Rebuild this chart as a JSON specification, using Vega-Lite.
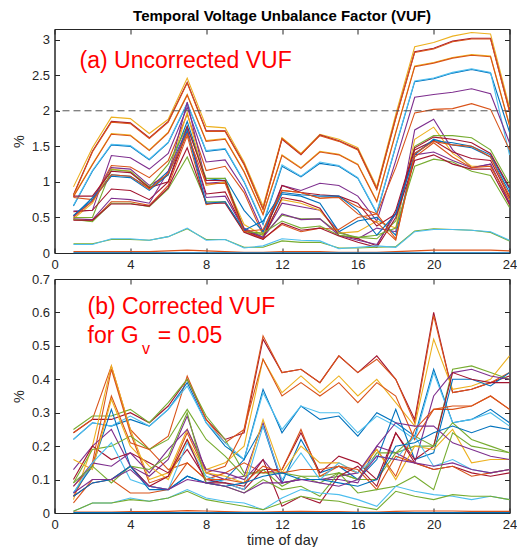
{
"$schema":"https://vega.github.io/schema/vega-lite/v6.json",
"padding":{"left":10.5,"top":8,"right":0,"bottom":0},
"bounds":"flush",
"spacing":26,
"config":{
 "font":"Liberation Sans",
 "view":{"stroke":"#262626","strokeWidth":1},
 "axis":{"grid":false,"labelFlush":false,"domainColor":"#262626","tickColor":"#262626","labelColor":"#262626","titleColor":"#262626","labelFont":"Liberation Sans","titleFont":"Liberation Sans","labelFontSize":13,"titleFontSize":14.5,"titleFontWeight":"normal","tickSize":-5,"labelPadding":10},
 "title":{"font":"Liberation Sans","fontSize":15,"fontWeight":"bold","color":"#000000","offset":4.5}
},
"datasets":{
"a":[
{"s":"a1","h":1,"v":0.93},{"s":"a1","h":2,"v":1.48},{"s":"a1","h":3,"v":1.91},{"s":"a1","h":4,"v":1.89},{"s":"a1","h":5,"v":1.68},{"s":"a1","h":6,"v":1.88},{"s":"a1","h":7,"v":2.46},{"s":"a1","h":8,"v":1.78},{"s":"a1","h":9,"v":1.76},{"s":"a1","h":10,"v":1.28},{"s":"a1","h":11,"v":0.66},{"s":"a1","h":12,"v":1.62},{"s":"a1","h":13,"v":1.40},{"s":"a1","h":14,"v":1.67},{"s":"a1","h":15,"v":1.60},{"s":"a1","h":16,"v":1.48},{"s":"a1","h":17,"v":0.93},{"s":"a1","h":18,"v":1.95},{"s":"a1","h":19,"v":2.90},{"s":"a1","h":20,"v":2.96},{"s":"a1","h":21,"v":3.05},{"s":"a1","h":22,"v":3.10},{"s":"a1","h":23,"v":3.08},{"s":"a1","h":24,"v":2.05},
{"s":"a2","h":1,"v":0.82},{"s":"a2","h":2,"v":1.43},{"s":"a2","h":3,"v":1.85},{"s":"a2","h":4,"v":1.83},{"s":"a2","h":5,"v":1.62},{"s":"a2","h":6,"v":1.85},{"s":"a2","h":7,"v":2.40},{"s":"a2","h":8,"v":1.72},{"s":"a2","h":9,"v":1.72},{"s":"a2","h":10,"v":1.25},{"s":"a2","h":11,"v":0.62},{"s":"a2","h":12,"v":1.60},{"s":"a2","h":13,"v":1.38},{"s":"a2","h":14,"v":1.66},{"s":"a2","h":15,"v":1.58},{"s":"a2","h":16,"v":1.46},{"s":"a2","h":17,"v":0.90},{"s":"a2","h":18,"v":1.90},{"s":"a2","h":19,"v":2.83},{"s":"a2","h":20,"v":2.88},{"s":"a2","h":21,"v":2.98},{"s":"a2","h":22,"v":3.02},{"s":"a2","h":23,"v":3.02},{"s":"a2","h":24,"v":2.00},
{"s":"a3","h":1,"v":0.81},{"s":"a3","h":2,"v":1.42},{"s":"a3","h":3,"v":1.84},{"s":"a3","h":4,"v":1.82},{"s":"a3","h":5,"v":1.61},{"s":"a3","h":6,"v":1.84},{"s":"a3","h":7,"v":2.39},{"s":"a3","h":8,"v":1.71},{"s":"a3","h":9,"v":1.71},{"s":"a3","h":10,"v":1.24},{"s":"a3","h":11,"v":0.61},{"s":"a3","h":12,"v":1.61},{"s":"a3","h":13,"v":1.39},{"s":"a3","h":14,"v":1.65},{"s":"a3","h":15,"v":1.57},{"s":"a3","h":16,"v":1.45},{"s":"a3","h":17,"v":0.89},{"s":"a3","h":18,"v":1.89},{"s":"a3","h":19,"v":2.82},{"s":"a3","h":20,"v":2.87},{"s":"a3","h":21,"v":2.97},{"s":"a3","h":22,"v":3.01},{"s":"a3","h":23,"v":3.01},{"s":"a3","h":24,"v":1.99},
{"s":"a4","h":1,"v":0.80},{"s":"a4","h":2,"v":1.25},{"s":"a4","h":3,"v":1.68},{"s":"a4","h":4,"v":1.66},{"s":"a4","h":5,"v":1.45},{"s":"a4","h":6,"v":1.70},{"s":"a4","h":7,"v":2.23},{"s":"a4","h":8,"v":1.58},{"s":"a4","h":9,"v":1.61},{"s":"a4","h":10,"v":1.15},{"s":"a4","h":11,"v":0.55},{"s":"a4","h":12,"v":1.38},{"s":"a4","h":13,"v":1.20},{"s":"a4","h":14,"v":1.43},{"s":"a4","h":15,"v":1.39},{"s":"a4","h":16,"v":1.25},{"s":"a4","h":17,"v":0.73},{"s":"a4","h":18,"v":1.70},{"s":"a4","h":19,"v":2.63},{"s":"a4","h":20,"v":2.68},{"s":"a4","h":21,"v":2.75},{"s":"a4","h":22,"v":2.79},{"s":"a4","h":23,"v":2.77},{"s":"a4","h":24,"v":1.80},
{"s":"a5","h":1,"v":0.79},{"s":"a5","h":2,"v":1.24},{"s":"a5","h":3,"v":1.67},{"s":"a5","h":4,"v":1.65},{"s":"a5","h":5,"v":1.44},{"s":"a5","h":6,"v":1.69},{"s":"a5","h":7,"v":2.22},{"s":"a5","h":8,"v":1.57},{"s":"a5","h":9,"v":1.60},{"s":"a5","h":10,"v":1.14},{"s":"a5","h":11,"v":0.54},{"s":"a5","h":12,"v":1.37},{"s":"a5","h":13,"v":1.19},{"s":"a5","h":14,"v":1.42},{"s":"a5","h":15,"v":1.38},{"s":"a5","h":16,"v":1.24},{"s":"a5","h":17,"v":0.72},{"s":"a5","h":18,"v":1.69},{"s":"a5","h":19,"v":2.62},{"s":"a5","h":20,"v":2.67},{"s":"a5","h":21,"v":2.74},{"s":"a5","h":22,"v":2.78},{"s":"a5","h":23,"v":2.76},{"s":"a5","h":24,"v":1.79},
{"s":"a6","h":1,"v":0.66},{"s":"a6","h":2,"v":1.15},{"s":"a6","h":3,"v":1.52},{"s":"a6","h":4,"v":1.50},{"s":"a6","h":5,"v":1.31},{"s":"a6","h":6,"v":1.55},{"s":"a6","h":7,"v":2.10},{"s":"a6","h":8,"v":1.43},{"s":"a6","h":9,"v":1.46},{"s":"a6","h":10,"v":1.00},{"s":"a6","h":11,"v":0.40},{"s":"a6","h":12,"v":1.22},{"s":"a6","h":13,"v":1.07},{"s":"a6","h":14,"v":1.26},{"s":"a6","h":15,"v":1.22},{"s":"a6","h":16,"v":1.05},{"s":"a6","h":17,"v":0.56},{"s":"a6","h":18,"v":1.50},{"s":"a6","h":19,"v":2.41},{"s":"a6","h":20,"v":2.45},{"s":"a6","h":21,"v":2.53},{"s":"a6","h":22,"v":2.58},{"s":"a6","h":23,"v":2.53},{"s":"a6","h":24,"v":1.70},
{"s":"a7","h":1,"v":0.67},{"s":"a7","h":2,"v":1.16},{"s":"a7","h":3,"v":1.53},{"s":"a7","h":4,"v":1.51},{"s":"a7","h":5,"v":1.32},{"s":"a7","h":6,"v":1.56},{"s":"a7","h":7,"v":2.11},{"s":"a7","h":8,"v":1.44},{"s":"a7","h":9,"v":1.47},{"s":"a7","h":10,"v":1.01},{"s":"a7","h":11,"v":0.42},{"s":"a7","h":12,"v":1.24},{"s":"a7","h":13,"v":1.08},{"s":"a7","h":14,"v":1.28},{"s":"a7","h":15,"v":1.23},{"s":"a7","h":16,"v":1.06},{"s":"a7","h":17,"v":0.57},{"s":"a7","h":18,"v":1.51},{"s":"a7","h":19,"v":2.42},{"s":"a7","h":20,"v":2.46},{"s":"a7","h":21,"v":2.54},{"s":"a7","h":22,"v":2.59},{"s":"a7","h":23,"v":2.54},{"s":"a7","h":24,"v":1.38},
{"s":"a8","h":1,"v":0.59},{"s":"a8","h":2,"v":0.60},{"s":"a8","h":3,"v":1.37},{"s":"a8","h":4,"v":1.34},{"s":"a8","h":5,"v":1.18},{"s":"a8","h":6,"v":1.40},{"s":"a8","h":7,"v":2.05},{"s":"a8","h":8,"v":1.28},{"s":"a8","h":9,"v":1.31},{"s":"a8","h":10,"v":0.90},{"s":"a8","h":11,"v":0.30},{"s":"a8","h":12,"v":0.95},{"s":"a8","h":13,"v":0.88},{"s":"a8","h":14,"v":0.98},{"s":"a8","h":15,"v":0.95},{"s":"a8","h":16,"v":0.80},{"s":"a8","h":17,"v":0.45},{"s":"a8","h":18,"v":1.30},{"s":"a8","h":19,"v":2.19},{"s":"a8","h":20,"v":2.23},{"s":"a8","h":21,"v":2.26},{"s":"a8","h":22,"v":2.31},{"s":"a8","h":23,"v":2.24},{"s":"a8","h":24,"v":1.55},
{"s":"a9","h":1,"v":0.78},{"s":"a9","h":2,"v":0.75},{"s":"a9","h":3,"v":1.23},{"s":"a9","h":4,"v":1.21},{"s":"a9","h":5,"v":1.06},{"s":"a9","h":6,"v":1.30},{"s":"a9","h":7,"v":1.95},{"s":"a9","h":8,"v":1.16},{"s":"a9","h":9,"v":1.22},{"s":"a9","h":10,"v":0.85},{"s":"a9","h":11,"v":0.25},{"s":"a9","h":12,"v":0.88},{"s":"a9","h":13,"v":0.85},{"s":"a9","h":14,"v":0.77},{"s":"a9","h":15,"v":0.79},{"s":"a9","h":16,"v":0.65},{"s":"a9","h":17,"v":0.55},{"s":"a9","h":18,"v":1.20},{"s":"a9","h":19,"v":1.97},{"s":"a9","h":20,"v":2.02},{"s":"a9","h":21,"v":2.03},{"s":"a9","h":22,"v":2.10},{"s":"a9","h":23,"v":2.02},{"s":"a9","h":24,"v":1.45},
{"s":"a10","h":1,"v":0.52},{"s":"a10","h":2,"v":0.78},{"s":"a10","h":3,"v":1.10},{"s":"a10","h":4,"v":1.08},{"s":"a10","h":5,"v":0.91},{"s":"a10","h":6,"v":1.15},{"s":"a10","h":7,"v":1.85},{"s":"a10","h":8,"v":1.02},{"s":"a10","h":9,"v":1.05},{"s":"a10","h":10,"v":0.60},{"s":"a10","h":11,"v":0.30},{"s":"a10","h":12,"v":0.83},{"s":"a10","h":13,"v":0.80},{"s":"a10","h":14,"v":0.70},{"s":"a10","h":15,"v":0.30},{"s":"a10","h":16,"v":0.45},{"s":"a10","h":17,"v":0.50},{"s":"a10","h":18,"v":0.25},{"s":"a10","h":19,"v":1.40},{"s":"a10","h":20,"v":1.58},{"s":"a10","h":21,"v":1.55},{"s":"a10","h":22,"v":1.50},{"s":"a10","h":23,"v":1.38},{"s":"a10","h":24,"v":0.90},
{"s":"a11","h":1,"v":0.52},{"s":"a11","h":2,"v":0.73},{"s":"a11","h":3,"v":1.20},{"s":"a11","h":4,"v":1.18},{"s":"a11","h":5,"v":0.95},{"s":"a11","h":6,"v":1.10},{"s":"a11","h":7,"v":2.12},{"s":"a11","h":8,"v":0.98},{"s":"a11","h":9,"v":1.00},{"s":"a11","h":10,"v":0.35},{"s":"a11","h":11,"v":0.22},{"s":"a11","h":12,"v":0.70},{"s":"a11","h":13,"v":0.65},{"s":"a11","h":14,"v":0.60},{"s":"a11","h":15,"v":0.30},{"s":"a11","h":16,"v":0.20},{"s":"a11","h":17,"v":0.35},{"s":"a11","h":18,"v":0.30},{"s":"a11","h":19,"v":1.73},{"s":"a11","h":20,"v":1.88},{"s":"a11","h":21,"v":1.45},{"s":"a11","h":22,"v":1.20},{"s":"a11","h":23,"v":1.25},{"s":"a11","h":24,"v":0.70},
{"s":"a12","h":1,"v":0.48},{"s":"a12","h":2,"v":0.70},{"s":"a12","h":3,"v":1.18},{"s":"a12","h":4,"v":1.15},{"s":"a12","h":5,"v":0.90},{"s":"a12","h":6,"v":1.10},{"s":"a12","h":7,"v":1.98},{"s":"a12","h":8,"v":0.95},{"s":"a12","h":9,"v":1.00},{"s":"a12","h":10,"v":0.40},{"s":"a12","h":11,"v":0.25},{"s":"a12","h":12,"v":0.75},{"s":"a12","h":13,"v":0.70},{"s":"a12","h":14,"v":0.60},{"s":"a12","h":15,"v":0.28},{"s":"a12","h":16,"v":0.30},{"s":"a12","h":17,"v":0.45},{"s":"a12","h":18,"v":0.35},{"s":"a12","h":19,"v":1.60},{"s":"a12","h":20,"v":1.77},{"s":"a12","h":21,"v":1.40},{"s":"a12","h":22,"v":1.22},{"s":"a12","h":23,"v":1.22},{"s":"a12","h":24,"v":0.75},
{"s":"a13","h":1,"v":0.50},{"s":"a13","h":2,"v":0.50},{"s":"a13","h":3,"v":1.17},{"s":"a13","h":4,"v":1.15},{"s":"a13","h":5,"v":0.93},{"s":"a13","h":6,"v":1.25},{"s":"a13","h":7,"v":1.78},{"s":"a13","h":8,"v":1.05},{"s":"a13","h":9,"v":1.05},{"s":"a13","h":10,"v":0.32},{"s":"a13","h":11,"v":0.25},{"s":"a13","h":12,"v":0.53},{"s":"a13","h":13,"v":0.48},{"s":"a13","h":14,"v":0.48},{"s":"a13","h":15,"v":0.28},{"s":"a13","h":16,"v":0.22},{"s":"a13","h":17,"v":0.20},{"s":"a13","h":18,"v":0.45},{"s":"a13","h":19,"v":1.50},{"s":"a13","h":20,"v":1.65},{"s":"a13","h":21,"v":1.65},{"s":"a13","h":22,"v":1.62},{"s":"a13","h":23,"v":1.45},{"s":"a13","h":24,"v":0.97},
{"s":"a14","h":1,"v":0.80},{"s":"a14","h":2,"v":0.80},{"s":"a14","h":3,"v":1.15},{"s":"a14","h":4,"v":1.13},{"s":"a14","h":5,"v":0.92},{"s":"a14","h":6,"v":1.00},{"s":"a14","h":7,"v":1.78},{"s":"a14","h":8,"v":1.02},{"s":"a14","h":9,"v":1.02},{"s":"a14","h":10,"v":0.32},{"s":"a14","h":11,"v":0.20},{"s":"a14","h":12,"v":0.78},{"s":"a14","h":13,"v":0.73},{"s":"a14","h":14,"v":0.63},{"s":"a14","h":15,"v":0.25},{"s":"a14","h":16,"v":0.20},{"s":"a14","h":17,"v":0.10},{"s":"a14","h":18,"v":0.60},{"s":"a14","h":19,"v":1.48},{"s":"a14","h":20,"v":1.63},{"s":"a14","h":21,"v":1.60},{"s":"a14","h":22,"v":1.55},{"s":"a14","h":23,"v":1.40},{"s":"a14","h":24,"v":0.92},
{"s":"a15","h":1,"v":0.58},{"s":"a15","h":2,"v":0.60},{"s":"a15","h":3,"v":0.90},{"s":"a15","h":4,"v":0.88},{"s":"a15","h":5,"v":0.75},{"s":"a15","h":6,"v":1.00},{"s":"a15","h":7,"v":1.70},{"s":"a15","h":8,"v":0.83},{"s":"a15","h":9,"v":0.86},{"s":"a15","h":10,"v":0.33},{"s":"a15","h":11,"v":0.20},{"s":"a15","h":12,"v":0.95},{"s":"a15","h":13,"v":0.85},{"s":"a15","h":14,"v":0.82},{"s":"a15","h":15,"v":0.80},{"s":"a15","h":16,"v":0.70},{"s":"a15","h":17,"v":0.38},{"s":"a15","h":18,"v":0.55},{"s":"a15","h":19,"v":1.45},{"s":"a15","h":20,"v":1.58},{"s":"a15","h":21,"v":1.42},{"s":"a15","h":22,"v":1.33},{"s":"a15","h":23,"v":1.30},{"s":"a15","h":24,"v":0.78},
{"s":"a16","h":1,"v":0.48},{"s":"a16","h":2,"v":0.47},{"s":"a16","h":3,"v":0.77},{"s":"a16","h":4,"v":0.75},{"s":"a16","h":5,"v":0.70},{"s":"a16","h":6,"v":1.15},{"s":"a16","h":7,"v":1.75},{"s":"a16","h":8,"v":0.78},{"s":"a16","h":9,"v":0.80},{"s":"a16","h":10,"v":0.33},{"s":"a16","h":11,"v":0.22},{"s":"a16","h":12,"v":0.55},{"s":"a16","h":13,"v":0.47},{"s":"a16","h":14,"v":0.48},{"s":"a16","h":15,"v":0.25},{"s":"a16","h":16,"v":0.18},{"s":"a16","h":17,"v":0.12},{"s":"a16","h":18,"v":0.55},{"s":"a16","h":19,"v":1.38},{"s":"a16","h":20,"v":1.42},{"s":"a16","h":21,"v":1.30},{"s":"a16","h":22,"v":1.20},{"s":"a16","h":23,"v":1.25},{"s":"a16","h":24,"v":0.70},
{"s":"a17","h":1,"v":0.47},{"s":"a17","h":2,"v":0.45},{"s":"a17","h":3,"v":0.72},{"s":"a17","h":4,"v":0.72},{"s":"a17","h":5,"v":0.67},{"s":"a17","h":6,"v":0.95},{"s":"a17","h":7,"v":1.65},{"s":"a17","h":8,"v":0.68},{"s":"a17","h":9,"v":0.72},{"s":"a17","h":10,"v":0.30},{"s":"a17","h":11,"v":0.20},{"s":"a17","h":12,"v":0.40},{"s":"a17","h":13,"v":0.30},{"s":"a17","h":14,"v":0.35},{"s":"a17","h":15,"v":0.33},{"s":"a17","h":16,"v":0.50},{"s":"a17","h":17,"v":0.55},{"s":"a17","h":18,"v":0.20},{"s":"a17","h":19,"v":1.35},{"s":"a17","h":20,"v":1.55},{"s":"a17","h":21,"v":1.35},{"s":"a17","h":22,"v":1.20},{"s":"a17","h":23,"v":1.22},{"s":"a17","h":24,"v":0.75},
{"s":"a18","h":1,"v":0.47},{"s":"a18","h":2,"v":0.44},{"s":"a18","h":3,"v":0.70},{"s":"a18","h":4,"v":0.70},{"s":"a18","h":5,"v":0.65},{"s":"a18","h":6,"v":0.90},{"s":"a18","h":7,"v":1.35},{"s":"a18","h":8,"v":0.72},{"s":"a18","h":9,"v":0.72},{"s":"a18","h":10,"v":0.30},{"s":"a18","h":11,"v":0.28},{"s":"a18","h":12,"v":0.45},{"s":"a18","h":13,"v":0.35},{"s":"a18","h":14,"v":0.38},{"s":"a18","h":15,"v":0.25},{"s":"a18","h":16,"v":0.22},{"s":"a18","h":17,"v":0.25},{"s":"a18","h":18,"v":0.35},{"s":"a18","h":19,"v":1.22},{"s":"a18","h":20,"v":1.32},{"s":"a18","h":21,"v":1.28},{"s":"a18","h":22,"v":1.15},{"s":"a18","h":23,"v":1.09},{"s":"a18","h":24,"v":0.64},
{"s":"a19","h":1,"v":0.46},{"s":"a19","h":2,"v":0.46},{"s":"a19","h":3,"v":0.69},{"s":"a19","h":4,"v":0.69},{"s":"a19","h":5,"v":0.66},{"s":"a19","h":6,"v":0.92},{"s":"a19","h":7,"v":1.48},{"s":"a19","h":8,"v":0.70},{"s":"a19","h":9,"v":0.70},{"s":"a19","h":10,"v":0.29},{"s":"a19","h":11,"v":0.19},{"s":"a19","h":12,"v":0.42},{"s":"a19","h":13,"v":0.32},{"s":"a19","h":14,"v":0.35},{"s":"a19","h":15,"v":0.24},{"s":"a19","h":16,"v":0.15},{"s":"a19","h":17,"v":0.08},{"s":"a19","h":18,"v":0.50},{"s":"a19","h":19,"v":1.30},{"s":"a19","h":20,"v":1.38},{"s":"a19","h":21,"v":1.25},{"s":"a19","h":22,"v":1.18},{"s":"a19","h":23,"v":1.18},{"s":"a19","h":24,"v":0.68},
{"s":"a20","h":1,"v":0.53},{"s":"a20","h":2,"v":0.75},{"s":"a20","h":3,"v":1.08},{"s":"a20","h":4,"v":1.06},{"s":"a20","h":5,"v":0.88},{"s":"a20","h":6,"v":1.10},{"s":"a20","h":7,"v":1.72},{"s":"a20","h":8,"v":0.70},{"s":"a20","h":9,"v":0.72},{"s":"a20","h":10,"v":0.32},{"s":"a20","h":11,"v":0.45},{"s":"a20","h":12,"v":0.85},{"s":"a20","h":13,"v":0.82},{"s":"a20","h":14,"v":0.80},{"s":"a20","h":15,"v":0.80},{"s":"a20","h":16,"v":0.60},{"s":"a20","h":17,"v":0.25},{"s":"a20","h":18,"v":0.55},{"s":"a20","h":19,"v":1.38},{"s":"a20","h":20,"v":1.60},{"s":"a20","h":21,"v":1.52},{"s":"a20","h":22,"v":1.48},{"s":"a20","h":23,"v":1.35},{"s":"a20","h":24,"v":0.85},
{"s":"a21","h":1,"v":0.50},{"s":"a21","h":2,"v":0.73},{"s":"a21","h":3,"v":1.10},{"s":"a21","h":4,"v":1.08},{"s":"a21","h":5,"v":0.90},{"s":"a21","h":6,"v":1.12},{"s":"a21","h":7,"v":1.68},{"s":"a21","h":8,"v":0.97},{"s":"a21","h":9,"v":0.98},{"s":"a21","h":10,"v":0.30},{"s":"a21","h":11,"v":0.33},{"s":"a21","h":12,"v":0.88},{"s":"a21","h":13,"v":0.85},{"s":"a21","h":14,"v":0.77},{"s":"a21","h":15,"v":0.78},{"s":"a21","h":16,"v":0.55},{"s":"a21","h":17,"v":0.43},{"s":"a21","h":18,"v":0.18},{"s":"a21","h":19,"v":1.40},{"s":"a21","h":20,"v":1.57},{"s":"a21","h":21,"v":1.52},{"s":"a21","h":22,"v":1.50},{"s":"a21","h":23,"v":1.35},{"s":"a21","h":24,"v":0.80},
{"s":"a22","h":1,"v":0.13},{"s":"a22","h":2,"v":0.13},{"s":"a22","h":3,"v":0.19},{"s":"a22","h":4,"v":0.19},{"s":"a22","h":5,"v":0.18},{"s":"a22","h":6,"v":0.23},{"s":"a22","h":7,"v":0.34},{"s":"a22","h":8,"v":0.19},{"s":"a22","h":9,"v":0.19},{"s":"a22","h":10,"v":0.08},{"s":"a22","h":11,"v":0.08},{"s":"a22","h":12,"v":0.17},{"s":"a22","h":13,"v":0.15},{"s":"a22","h":14,"v":0.15},{"s":"a22","h":15,"v":0.07},{"s":"a22","h":16,"v":0.07},{"s":"a22","h":17,"v":0.08},{"s":"a22","h":18,"v":0.09},{"s":"a22","h":19,"v":0.31},{"s":"a22","h":20,"v":0.34},{"s":"a22","h":21,"v":0.33},{"s":"a22","h":22,"v":0.32},{"s":"a22","h":23,"v":0.29},{"s":"a22","h":24,"v":0.17},
{"s":"a23","h":1,"v":0.12},{"s":"a23","h":2,"v":0.12},{"s":"a23","h":3,"v":0.20},{"s":"a23","h":4,"v":0.20},{"s":"a23","h":5,"v":0.18},{"s":"a23","h":6,"v":0.23},{"s":"a23","h":7,"v":0.35},{"s":"a23","h":8,"v":0.18},{"s":"a23","h":9,"v":0.19},{"s":"a23","h":10,"v":0.07},{"s":"a23","h":11,"v":0.10},{"s":"a23","h":12,"v":0.20},{"s":"a23","h":13,"v":0.18},{"s":"a23","h":14,"v":0.17},{"s":"a23","h":15,"v":0.06},{"s":"a23","h":16,"v":0.08},{"s":"a23","h":17,"v":0.10},{"s":"a23","h":18,"v":0.08},{"s":"a23","h":19,"v":0.30},{"s":"a23","h":20,"v":0.33},{"s":"a23","h":21,"v":0.33},{"s":"a23","h":22,"v":0.32},{"s":"a23","h":23,"v":0.30},{"s":"a23","h":24,"v":0.18},
{"s":"a24","h":1,"v":0.02},{"s":"a24","h":2,"v":0.02},{"s":"a24","h":3,"v":0.02},{"s":"a24","h":4,"v":0.02},{"s":"a24","h":5,"v":0.02},{"s":"a24","h":6,"v":0.03},{"s":"a24","h":7,"v":0.04},{"s":"a24","h":8,"v":0.03},{"s":"a24","h":9,"v":0.02},{"s":"a24","h":10,"v":0.01},{"s":"a24","h":11,"v":0.01},{"s":"a24","h":12,"v":0.02},{"s":"a24","h":13,"v":0.02},{"s":"a24","h":14,"v":0.02},{"s":"a24","h":15,"v":0.01},{"s":"a24","h":16,"v":0.01},{"s":"a24","h":17,"v":0.01},{"s":"a24","h":18,"v":0.02},{"s":"a24","h":19,"v":0.03},{"s":"a24","h":20,"v":0.04},{"s":"a24","h":21,"v":0.04},{"s":"a24","h":22,"v":0.04},{"s":"a24","h":23,"v":0.04},{"s":"a24","h":24,"v":0.03},
{"s":"a25","h":1,"v":0.003},{"s":"a25","h":2,"v":0.003},{"s":"a25","h":3,"v":0.003},{"s":"a25","h":4,"v":0.003},{"s":"a25","h":5,"v":0.003},{"s":"a25","h":6,"v":0.003},{"s":"a25","h":7,"v":0.003},{"s":"a25","h":8,"v":0.003},{"s":"a25","h":9,"v":0.003},{"s":"a25","h":10,"v":0.003},{"s":"a25","h":11,"v":0.003},{"s":"a25","h":12,"v":0.003},{"s":"a25","h":13,"v":0.003},{"s":"a25","h":14,"v":0.003},{"s":"a25","h":15,"v":0.003},{"s":"a25","h":16,"v":0.003},{"s":"a25","h":17,"v":0.003},{"s":"a25","h":18,"v":0.003},{"s":"a25","h":19,"v":0.003},{"s":"a25","h":20,"v":0.003},{"s":"a25","h":21,"v":0.003},{"s":"a25","h":22,"v":0.003},{"s":"a25","h":23,"v":0.003},{"s":"a25","h":24,"v":0.003}
],
"b":[
{"s":"b1","h":1,"v":0.24},{"s":"b1","h":2,"v":0.28},{"s":"b1","h":3,"v":0.28},{"s":"b1","h":4,"v":0.30},{"s":"b1","h":5,"v":0.27},{"s":"b1","h":6,"v":0.32},{"s":"b1","h":7,"v":0.40},{"s":"b1","h":8,"v":0.28},{"s":"b1","h":9,"v":0.22},{"s":"b1","h":10,"v":0.24},{"s":"b1","h":11,"v":0.52},{"s":"b1","h":12,"v":0.42},{"s":"b1","h":13,"v":0.43},{"s":"b1","h":14,"v":0.39},{"s":"b1","h":15,"v":0.47},{"s":"b1","h":16,"v":0.42},{"s":"b1","h":17,"v":0.47},{"s":"b1","h":18,"v":0.40},{"s":"b1","h":19,"v":0.28},{"s":"b1","h":20,"v":0.60},{"s":"b1","h":21,"v":0.36},{"s":"b1","h":22,"v":0.37},{"s":"b1","h":23,"v":0.39},{"s":"b1","h":24,"v":0.41},
{"s":"b2","h":1,"v":0.24},{"s":"b2","h":2,"v":0.28},{"s":"b2","h":3,"v":0.44},{"s":"b2","h":4,"v":0.25},{"s":"b2","h":5,"v":0.19},{"s":"b2","h":6,"v":0.23},{"s":"b2","h":7,"v":0.41},{"s":"b2","h":8,"v":0.28},{"s":"b2","h":9,"v":0.21},{"s":"b2","h":10,"v":0.25},{"s":"b2","h":11,"v":0.53},{"s":"b2","h":12,"v":0.42},{"s":"b2","h":13,"v":0.43},{"s":"b2","h":14,"v":0.39},{"s":"b2","h":15,"v":0.47},{"s":"b2","h":16,"v":0.42},{"s":"b2","h":17,"v":0.46},{"s":"b2","h":18,"v":0.40},{"s":"b2","h":19,"v":0.27},{"s":"b2","h":20,"v":0.59},{"s":"b2","h":21,"v":0.36},{"s":"b2","h":22,"v":0.37},{"s":"b2","h":23,"v":0.39},{"s":"b2","h":24,"v":0.42},
{"s":"b3","h":1,"v":0.25},{"s":"b3","h":2,"v":0.29},{"s":"b3","h":3,"v":0.29},{"s":"b3","h":4,"v":0.31},{"s":"b3","h":5,"v":0.27},{"s":"b3","h":6,"v":0.33},{"s":"b3","h":7,"v":0.40},{"s":"b3","h":8,"v":0.29},{"s":"b3","h":9,"v":0.22},{"s":"b3","h":10,"v":0.12},{"s":"b3","h":11,"v":0.12},{"s":"b3","h":12,"v":0.12},{"s":"b3","h":13,"v":0.11},{"s":"b3","h":14,"v":0.11},{"s":"b3","h":15,"v":0.12},{"s":"b3","h":16,"v":0.10},{"s":"b3","h":17,"v":0.10},{"s":"b3","h":18,"v":0.18},{"s":"b3","h":19,"v":0.23},{"s":"b3","h":20,"v":0.20},{"s":"b3","h":21,"v":0.43},{"s":"b3","h":22,"v":0.44},{"s":"b3","h":23,"v":0.42},{"s":"b3","h":24,"v":0.40},
{"s":"b4","h":1,"v":0.22},{"s":"b4","h":2,"v":0.27},{"s":"b4","h":3,"v":0.26},{"s":"b4","h":4,"v":0.28},{"s":"b4","h":5,"v":0.26},{"s":"b4","h":6,"v":0.31},{"s":"b4","h":7,"v":0.39},{"s":"b4","h":8,"v":0.27},{"s":"b4","h":9,"v":0.20},{"s":"b4","h":10,"v":0.16},{"s":"b4","h":11,"v":0.37},{"s":"b4","h":12,"v":0.24},{"s":"b4","h":13,"v":0.32},{"s":"b4","h":14,"v":0.28},{"s":"b4","h":15,"v":0.29},{"s":"b4","h":16,"v":0.23},{"s":"b4","h":17,"v":0.30},{"s":"b4","h":18,"v":0.27},{"s":"b4","h":19,"v":0.23},{"s":"b4","h":20,"v":0.43},{"s":"b4","h":21,"v":0.27},{"s":"b4","h":22,"v":0.28},{"s":"b4","h":23,"v":0.31},{"s":"b4","h":24,"v":0.27},
{"s":"b5","h":1,"v":0.22},{"s":"b5","h":2,"v":0.27},{"s":"b5","h":3,"v":0.26},{"s":"b5","h":4,"v":0.29},{"s":"b5","h":5,"v":0.26},{"s":"b5","h":6,"v":0.31},{"s":"b5","h":7,"v":0.38},{"s":"b5","h":8,"v":0.27},{"s":"b5","h":9,"v":0.21},{"s":"b5","h":10,"v":0.16},{"s":"b5","h":11,"v":0.36},{"s":"b5","h":12,"v":0.25},{"s":"b5","h":13,"v":0.32},{"s":"b5","h":14,"v":0.30},{"s":"b5","h":15,"v":0.30},{"s":"b5","h":16,"v":0.24},{"s":"b5","h":17,"v":0.29},{"s":"b5","h":18,"v":0.26},{"s":"b5","h":19,"v":0.22},{"s":"b5","h":20,"v":0.42},{"s":"b5","h":21,"v":0.27},{"s":"b5","h":22,"v":0.28},{"s":"b5","h":23,"v":0.30},{"s":"b5","h":24,"v":0.26},
{"s":"b6","h":1,"v":0.04},{"s":"b6","h":2,"v":0.20},{"s":"b6","h":3,"v":0.44},{"s":"b6","h":4,"v":0.25},{"s":"b6","h":5,"v":0.10},{"s":"b6","h":6,"v":0.12},{"s":"b6","h":7,"v":0.25},{"s":"b6","h":8,"v":0.13},{"s":"b6","h":9,"v":0.15},{"s":"b6","h":10,"v":0.20},{"s":"b6","h":11,"v":0.46},{"s":"b6","h":12,"v":0.36},{"s":"b6","h":13,"v":0.41},{"s":"b6","h":14,"v":0.36},{"s":"b6","h":15,"v":0.41},{"s":"b6","h":16,"v":0.35},{"s":"b6","h":17,"v":0.40},{"s":"b6","h":18,"v":0.33},{"s":"b6","h":19,"v":0.26},{"s":"b6","h":20,"v":0.52},{"s":"b6","h":21,"v":0.37},{"s":"b6","h":22,"v":0.38},{"s":"b6","h":23,"v":0.40},{"s":"b6","h":24,"v":0.47},
{"s":"b7","h":1,"v":0.05},{"s":"b7","h":2,"v":0.15},{"s":"b7","h":3,"v":0.43},{"s":"b7","h":4,"v":0.24},{"s":"b7","h":5,"v":0.09},{"s":"b7","h":6,"v":0.11},{"s":"b7","h":7,"v":0.24},{"s":"b7","h":8,"v":0.12},{"s":"b7","h":9,"v":0.14},{"s":"b7","h":10,"v":0.25},{"s":"b7","h":11,"v":0.46},{"s":"b7","h":12,"v":0.35},{"s":"b7","h":13,"v":0.39},{"s":"b7","h":14,"v":0.35},{"s":"b7","h":15,"v":0.39},{"s":"b7","h":16,"v":0.33},{"s":"b7","h":17,"v":0.39},{"s":"b7","h":18,"v":0.35},{"s":"b7","h":19,"v":0.22},{"s":"b7","h":20,"v":0.31},{"s":"b7","h":21,"v":0.31},{"s":"b7","h":22,"v":0.32},{"s":"b7","h":23,"v":0.35},{"s":"b7","h":24,"v":0.31},
{"s":"b8","h":1,"v":0.06},{"s":"b8","h":2,"v":0.14},{"s":"b8","h":3,"v":0.31},{"s":"b8","h":4,"v":0.14},{"s":"b8","h":5,"v":0.08},{"s":"b8","h":6,"v":0.07},{"s":"b8","h":7,"v":0.11},{"s":"b8","h":8,"v":0.09},{"s":"b8","h":9,"v":0.10},{"s":"b8","h":10,"v":0.16},{"s":"b8","h":11,"v":0.26},{"s":"b8","h":12,"v":0.09},{"s":"b8","h":13,"v":0.22},{"s":"b8","h":14,"v":0.12},{"s":"b8","h":15,"v":0.14},{"s":"b8","h":16,"v":0.10},{"s":"b8","h":17,"v":0.16},{"s":"b8","h":18,"v":0.31},{"s":"b8","h":19,"v":0.16},{"s":"b8","h":20,"v":0.18},{"s":"b8","h":21,"v":0.40},{"s":"b8","h":22,"v":0.40},{"s":"b8","h":23,"v":0.38},{"s":"b8","h":24,"v":0.42},
{"s":"b9","h":1,"v":0.13},{"s":"b9","h":2,"v":0.20},{"s":"b9","h":3,"v":0.25},{"s":"b9","h":4,"v":0.14},{"s":"b9","h":5,"v":0.11},{"s":"b9","h":6,"v":0.16},{"s":"b9","h":7,"v":0.29},{"s":"b9","h":8,"v":0.12},{"s":"b9","h":9,"v":0.10},{"s":"b9","h":10,"v":0.11},{"s":"b9","h":11,"v":0.27},{"s":"b9","h":12,"v":0.09},{"s":"b9","h":13,"v":0.10},{"s":"b9","h":14,"v":0.10},{"s":"b9","h":15,"v":0.10},{"s":"b9","h":16,"v":0.09},{"s":"b9","h":17,"v":0.20},{"s":"b9","h":18,"v":0.18},{"s":"b9","h":19,"v":0.15},{"s":"b9","h":20,"v":0.35},{"s":"b9","h":21,"v":0.42},{"s":"b9","h":22,"v":0.43},{"s":"b9","h":23,"v":0.41},{"s":"b9","h":24,"v":0.40},
{"s":"b10","h":1,"v":0.10},{"s":"b10","h":2,"v":0.20},{"s":"b10","h":3,"v":0.16},{"s":"b10","h":4,"v":0.18},{"s":"b10","h":5,"v":0.15},{"s":"b10","h":6,"v":0.12},{"s":"b10","h":7,"v":0.19},{"s":"b10","h":8,"v":0.10},{"s":"b10","h":9,"v":0.09},{"s":"b10","h":10,"v":0.07},{"s":"b10","h":11,"v":0.13},{"s":"b10","h":12,"v":0.13},{"s":"b10","h":13,"v":0.24},{"s":"b10","h":14,"v":0.12},{"s":"b10","h":15,"v":0.17},{"s":"b10","h":16,"v":0.15},{"s":"b10","h":17,"v":0.10},{"s":"b10","h":18,"v":0.24},{"s":"b10","h":19,"v":0.16},{"s":"b10","h":20,"v":0.20},{"s":"b10","h":21,"v":0.42},{"s":"b10","h":22,"v":0.40},{"s":"b10","h":23,"v":0.39},{"s":"b10","h":24,"v":0.39},
{"s":"b11","h":1,"v":0.09},{"s":"b11","h":2,"v":0.19},{"s":"b11","h":3,"v":0.20},{"s":"b11","h":4,"v":0.23},{"s":"b11","h":5,"v":0.19},{"s":"b11","h":6,"v":0.22},{"s":"b11","h":7,"v":0.31},{"s":"b11","h":8,"v":0.22},{"s":"b11","h":9,"v":0.17},{"s":"b11","h":10,"v":0.11},{"s":"b11","h":11,"v":0.13},{"s":"b11","h":12,"v":0.08},{"s":"b11","h":13,"v":0.11},{"s":"b11","h":14,"v":0.09},{"s":"b11","h":15,"v":0.12},{"s":"b11","h":16,"v":0.10},{"s":"b11","h":17,"v":0.18},{"s":"b11","h":18,"v":0.18},{"s":"b11","h":19,"v":0.20},{"s":"b11","h":20,"v":0.20},{"s":"b11","h":21,"v":0.27},{"s":"b11","h":22,"v":0.22},{"s":"b11","h":23,"v":0.20},{"s":"b11","h":24,"v":0.18},
{"s":"b12","h":1,"v":0.08},{"s":"b12","h":2,"v":0.14},{"s":"b12","h":3,"v":0.35},{"s":"b12","h":4,"v":0.21},{"s":"b12","h":5,"v":0.19},{"s":"b12","h":6,"v":0.13},{"s":"b12","h":7,"v":0.15},{"s":"b12","h":8,"v":0.10},{"s":"b12","h":9,"v":0.12},{"s":"b12","h":10,"v":0.15},{"s":"b12","h":11,"v":0.12},{"s":"b12","h":12,"v":0.13},{"s":"b12","h":13,"v":0.25},{"s":"b12","h":14,"v":0.11},{"s":"b12","h":15,"v":0.14},{"s":"b12","h":16,"v":0.12},{"s":"b12","h":17,"v":0.19},{"s":"b12","h":18,"v":0.11},{"s":"b12","h":19,"v":0.25},{"s":"b12","h":20,"v":0.31},{"s":"b12","h":21,"v":0.32},{"s":"b12","h":22,"v":0.32},{"s":"b12","h":23,"v":0.35},{"s":"b12","h":24,"v":0.31},
{"s":"b13","h":1,"v":0.16},{"s":"b13","h":2,"v":0.13},{"s":"b13","h":3,"v":0.34},{"s":"b13","h":4,"v":0.20},{"s":"b13","h":5,"v":0.14},{"s":"b13","h":6,"v":0.10},{"s":"b13","h":7,"v":0.22},{"s":"b13","h":8,"v":0.12},{"s":"b13","h":9,"v":0.11},{"s":"b13","h":10,"v":0.09},{"s":"b13","h":11,"v":0.28},{"s":"b13","h":12,"v":0.12},{"s":"b13","h":13,"v":0.20},{"s":"b13","h":14,"v":0.15},{"s":"b13","h":15,"v":0.15},{"s":"b13","h":16,"v":0.12},{"s":"b13","h":17,"v":0.19},{"s":"b13","h":18,"v":0.10},{"s":"b13","h":19,"v":0.20},{"s":"b13","h":20,"v":0.19},{"s":"b13","h":21,"v":0.25},{"s":"b13","h":22,"v":0.15},{"s":"b13","h":23,"v":0.16},{"s":"b13","h":24,"v":0.16},
{"s":"b14","h":1,"v":0.08},{"s":"b14","h":2,"v":0.15},{"s":"b14","h":3,"v":0.14},{"s":"b14","h":4,"v":0.18},{"s":"b14","h":5,"v":0.12},{"s":"b14","h":6,"v":0.19},{"s":"b14","h":7,"v":0.25},{"s":"b14","h":8,"v":0.13},{"s":"b14","h":9,"v":0.12},{"s":"b14","h":10,"v":0.10},{"s":"b14","h":11,"v":0.16},{"s":"b14","h":12,"v":0.09},{"s":"b14","h":13,"v":0.10},{"s":"b14","h":14,"v":0.10},{"s":"b14","h":15,"v":0.11},{"s":"b14","h":16,"v":0.12},{"s":"b14","h":17,"v":0.20},{"s":"b14","h":18,"v":0.27},{"s":"b14","h":19,"v":0.26},{"s":"b14","h":20,"v":0.26},{"s":"b14","h":21,"v":0.21},{"s":"b14","h":22,"v":0.19},{"s":"b14","h":23,"v":0.17},{"s":"b14","h":24,"v":0.16},
{"s":"b15","h":1,"v":0.06},{"s":"b15","h":2,"v":0.15},{"s":"b15","h":3,"v":0.21},{"s":"b15","h":4,"v":0.10},{"s":"b15","h":5,"v":0.08},{"s":"b15","h":6,"v":0.07},{"s":"b15","h":7,"v":0.21},{"s":"b15","h":8,"v":0.11},{"s":"b15","h":9,"v":0.09},{"s":"b15","h":10,"v":0.07},{"s":"b15","h":11,"v":0.26},{"s":"b15","h":12,"v":0.10},{"s":"b15","h":13,"v":0.18},{"s":"b15","h":14,"v":0.10},{"s":"b15","h":15,"v":0.15},{"s":"b15","h":16,"v":0.12},{"s":"b15","h":17,"v":0.17},{"s":"b15","h":18,"v":0.16},{"s":"b15","h":19,"v":0.23},{"s":"b15","h":20,"v":0.14},{"s":"b15","h":21,"v":0.16},{"s":"b15","h":22,"v":0.13},{"s":"b15","h":23,"v":0.12},{"s":"b15","h":24,"v":0.13},
{"s":"b16","h":1,"v":0.05},{"s":"b16","h":2,"v":0.09},{"s":"b16","h":3,"v":0.10},{"s":"b16","h":4,"v":0.14},{"s":"b16","h":5,"v":0.08},{"s":"b16","h":6,"v":0.11},{"s":"b16","h":7,"v":0.22},{"s":"b16","h":8,"v":0.09},{"s":"b16","h":9,"v":0.09},{"s":"b16","h":10,"v":0.08},{"s":"b16","h":11,"v":0.16},{"s":"b16","h":12,"v":0.02},{"s":"b16","h":13,"v":0.05},{"s":"b16","h":14,"v":0.03},{"s":"b16","h":15,"v":0.11},{"s":"b16","h":16,"v":0.14},{"s":"b16","h":17,"v":0.08},{"s":"b16","h":18,"v":0.24},{"s":"b16","h":19,"v":0.15},{"s":"b16","h":20,"v":0.13},{"s":"b16","h":21,"v":0.14},{"s":"b16","h":22,"v":0.12},{"s":"b16","h":23,"v":0.11},{"s":"b16","h":24,"v":0.12},
{"s":"b17","h":1,"v":0.03},{"s":"b17","h":2,"v":0.10},{"s":"b17","h":3,"v":0.10},{"s":"b17","h":4,"v":0.06},{"s":"b17","h":5,"v":0.06},{"s":"b17","h":6,"v":0.07},{"s":"b17","h":7,"v":0.15},{"s":"b17","h":8,"v":0.10},{"s":"b17","h":9,"v":0.10},{"s":"b17","h":10,"v":0.09},{"s":"b17","h":11,"v":0.14},{"s":"b17","h":12,"v":0.12},{"s":"b17","h":13,"v":0.13},{"s":"b17","h":14,"v":0.13},{"s":"b17","h":15,"v":0.14},{"s":"b17","h":16,"v":0.13},{"s":"b17","h":17,"v":0.07},{"s":"b17","h":18,"v":0.17},{"s":"b17","h":19,"v":0.15},{"s":"b17","h":20,"v":0.13},{"s":"b17","h":21,"v":0.14},{"s":"b17","h":22,"v":0.11},{"s":"b17","h":23,"v":0.12},{"s":"b17","h":24,"v":0.13},
{"s":"b18","h":1,"v":0.09},{"s":"b18","h":2,"v":0.14},{"s":"b18","h":3,"v":0.09},{"s":"b18","h":4,"v":0.14},{"s":"b18","h":5,"v":0.13},{"s":"b18","h":6,"v":0.17},{"s":"b18","h":7,"v":0.30},{"s":"b18","h":8,"v":0.09},{"s":"b18","h":9,"v":0.08},{"s":"b18","h":10,"v":0.06},{"s":"b18","h":11,"v":0.10},{"s":"b18","h":12,"v":0.07},{"s":"b18","h":13,"v":0.08},{"s":"b18","h":14,"v":0.05},{"s":"b18","h":15,"v":0.12},{"s":"b18","h":16,"v":0.06},{"s":"b18","h":17,"v":0.07},{"s":"b18","h":18,"v":0.08},{"s":"b18","h":19,"v":0.11},{"s":"b18","h":20,"v":0.07},{"s":"b18","h":21,"v":0.24},{"s":"b18","h":22,"v":0.20},{"s":"b18","h":23,"v":0.19},{"s":"b18","h":24,"v":0.18},
{"s":"b19","h":1,"v":0.05},{"s":"b19","h":2,"v":0.09},{"s":"b19","h":3,"v":0.10},{"s":"b19","h":4,"v":0.14},{"s":"b19","h":5,"v":0.07},{"s":"b19","h":6,"v":0.07},{"s":"b19","h":7,"v":0.11},{"s":"b19","h":8,"v":0.09},{"s":"b19","h":9,"v":0.08},{"s":"b19","h":10,"v":0.09},{"s":"b19","h":11,"v":0.11},{"s":"b19","h":12,"v":0.12},{"s":"b19","h":13,"v":0.10},{"s":"b19","h":14,"v":0.10},{"s":"b19","h":15,"v":0.09},{"s":"b19","h":16,"v":0.08},{"s":"b19","h":17,"v":0.10},{"s":"b19","h":18,"v":0.20},{"s":"b19","h":19,"v":0.21},{"s":"b19","h":20,"v":0.24},{"s":"b19","h":21,"v":0.26},{"s":"b19","h":22,"v":0.24},{"s":"b19","h":23,"v":0.26},{"s":"b19","h":24,"v":0.25},
{"s":"b20","h":1,"v":0.06},{"s":"b20","h":2,"v":0.10},{"s":"b20","h":3,"v":0.10},{"s":"b20","h":4,"v":0.13},{"s":"b20","h":5,"v":0.08},{"s":"b20","h":6,"v":0.07},{"s":"b20","h":7,"v":0.10},{"s":"b20","h":8,"v":0.09},{"s":"b20","h":9,"v":0.08},{"s":"b20","h":10,"v":0.06},{"s":"b20","h":11,"v":0.09},{"s":"b20","h":12,"v":0.09},{"s":"b20","h":13,"v":0.10},{"s":"b20","h":14,"v":0.09},{"s":"b20","h":15,"v":0.08},{"s":"b20","h":16,"v":0.10},{"s":"b20","h":17,"v":0.17},{"s":"b20","h":18,"v":0.16},{"s":"b20","h":19,"v":0.15},{"s":"b20","h":20,"v":0.14},{"s":"b20","h":21,"v":0.15},{"s":"b20","h":22,"v":0.13},{"s":"b20","h":23,"v":0.12},{"s":"b20","h":24,"v":0.13},
{"s":"b21","h":1,"v":0.005},{"s":"b21","h":2,"v":0.03},{"s":"b21","h":3,"v":0.03},{"s":"b21","h":4,"v":0.045},{"s":"b21","h":5,"v":0.035},{"s":"b21","h":6,"v":0.045},{"s":"b21","h":7,"v":0.07},{"s":"b21","h":8,"v":0.045},{"s":"b21","h":9,"v":0.035},{"s":"b21","h":10,"v":0.03},{"s":"b21","h":11,"v":0.01},{"s":"b21","h":12,"v":0.045},{"s":"b21","h":13,"v":0.07},{"s":"b21","h":14,"v":0.06},{"s":"b21","h":15,"v":0.055},{"s":"b21","h":16,"v":0.04},{"s":"b21","h":17,"v":0.02},{"s":"b21","h":18,"v":0.08},{"s":"b21","h":19,"v":0.065},{"s":"b21","h":20,"v":0.055},{"s":"b21","h":21,"v":0.05},{"s":"b21","h":22,"v":0.04},{"s":"b21","h":23,"v":0.05},{"s":"b21","h":24,"v":0.04},
{"s":"b22","h":1,"v":0.005},{"s":"b22","h":2,"v":0.03},{"s":"b22","h":3,"v":0.03},{"s":"b22","h":4,"v":0.04},{"s":"b22","h":5,"v":0.035},{"s":"b22","h":6,"v":0.045},{"s":"b22","h":7,"v":0.065},{"s":"b22","h":8,"v":0.04},{"s":"b22","h":9,"v":0.03},{"s":"b22","h":10,"v":0.02},{"s":"b22","h":11,"v":0.01},{"s":"b22","h":12,"v":0.03},{"s":"b22","h":13,"v":0.05},{"s":"b22","h":14,"v":0.04},{"s":"b22","h":15,"v":0.035},{"s":"b22","h":16,"v":0.02},{"s":"b22","h":17,"v":0.01},{"s":"b22","h":18,"v":0.065},{"s":"b22","h":19,"v":0.05},{"s":"b22","h":20,"v":0.04},{"s":"b22","h":21,"v":0.055},{"s":"b22","h":22,"v":0.05},{"s":"b22","h":23,"v":0.05},{"s":"b22","h":24,"v":0.04},
{"s":"b23","h":1,"v":0.003},{"s":"b23","h":2,"v":0.003},{"s":"b23","h":3,"v":0.003},{"s":"b23","h":4,"v":0.004},{"s":"b23","h":5,"v":0.004},{"s":"b23","h":6,"v":0.005},{"s":"b23","h":7,"v":0.007},{"s":"b23","h":8,"v":0.006},{"s":"b23","h":9,"v":0.004},{"s":"b23","h":10,"v":0.003},{"s":"b23","h":11,"v":0.003},{"s":"b23","h":12,"v":0.004},{"s":"b23","h":13,"v":0.005},{"s":"b23","h":14,"v":0.004},{"s":"b23","h":15,"v":0.004},{"s":"b23","h":16,"v":0.003},{"s":"b23","h":17,"v":0.003},{"s":"b23","h":18,"v":0.005},{"s":"b23","h":19,"v":0.006},{"s":"b23","h":20,"v":0.006},{"s":"b23","h":21,"v":0.006},{"s":"b23","h":22,"v":0.005},{"s":"b23","h":23,"v":0.005},{"s":"b23","h":24,"v":0.005},
{"s":"b24","h":1,"v":0.001},{"s":"b24","h":2,"v":0.001},{"s":"b24","h":3,"v":0.001},{"s":"b24","h":4,"v":0.001},{"s":"b24","h":5,"v":0.001},{"s":"b24","h":6,"v":0.001},{"s":"b24","h":7,"v":0.001},{"s":"b24","h":8,"v":0.001},{"s":"b24","h":9,"v":0.001},{"s":"b24","h":10,"v":0.001},{"s":"b24","h":11,"v":0.001},{"s":"b24","h":12,"v":0.001},{"s":"b24","h":13,"v":0.001},{"s":"b24","h":14,"v":0.001},{"s":"b24","h":15,"v":0.001},{"s":"b24","h":16,"v":0.001},{"s":"b24","h":17,"v":0.001},{"s":"b24","h":18,"v":0.001},{"s":"b24","h":19,"v":0.001},{"s":"b24","h":20,"v":0.001},{"s":"b24","h":21,"v":0.001},{"s":"b24","h":22,"v":0.001},{"s":"b24","h":23,"v":0.001},{"s":"b24","h":24,"v":0.001}
]
},
"vconcat":[
{
 "width":455,"height":224,
 "title":{"text":"Temporal Voltage Unbalance Factor (VUF)"},
 "layer":[
  {"data":{"name":"a"},"mark":{"type":"line","strokeWidth":1.1},
   "encoding":{
    "x":{"field":"h","type":"quantitative","scale":{"domain":[0,24],"nice":false},"axis":{"values":[0,4,8,12,16,20,24],"title":null,"orient":"bottom"}},
    "y":{"field":"v","type":"quantitative","scale":{"domain":[0,3.15],"nice":false},"axis":{"values":[0,0.5,1,1.5,2,2.5,3],"format":"~g","title":"%","orient":"left","titlePadding":5}},
    "color":{"field":"s","type":"nominal","legend":null,"scale":{"domain":["a1","a2","a3","a4","a5","a6","a7","a8","a9","a10","a11","a12","a13","a14","a15","a16","a17","a18","a19","a20","a21","a22","a23","a24","a25"],"range":["#EDB120","#A2142F","#D95319","#EDB120","#D95319","#0072BD","#4DBEEE","#7E2F8E","#D95319","#0072BD","#7E2F8E","#EDB120","#77AC30","#A2142F","#A2142F","#7E2F8E","#D95319","#77AC30","#A2142F","#0072BD","#D95319","#77AC30","#4DBEEE","#D95319","#0072BD"]}}
   }},
  {"data":{"values":[{}]},"mark":{"type":"rule","strokeDash":[7,4],"color":"#555555","strokeWidth":1},"encoding":{"y":{"datum":2,"type":"quantitative","axis":null}}},
  {"data":{"values":[{}]},"mark":{"type":"text","align":"left","baseline":"alphabetic","fontSize":23,"color":"#FF0000","font":"Liberation Sans"},
   "encoding":{
    "x":{"datum":1.32,"type":"quantitative","axis":{"orient":"top","labels":false,"values":[0,4,8,12,16,20,24],"title":null}},
    "y":{"datum":2.6,"type":"quantitative","axis":{"orient":"right","labels":false,"values":[0,0.5,1,1.5,2,2.5,3],"title":null}},
    "text":{"value":"(a) Uncorrected VUF"}}}
 ],
 "resolve":{"axis":{"x":"independent","y":"independent"}}
},
{
 "width":455,"height":234,
 "layer":[
  {"data":{"name":"b"},"mark":{"type":"line","strokeWidth":1.1},
   "encoding":{
    "x":{"field":"h","type":"quantitative","scale":{"domain":[0,24],"nice":false},"axis":{"values":[0,4,8,12,16,20,24],"title":"time of day","orient":"bottom","titlePadding":2}},
    "y":{"field":"v","type":"quantitative","scale":{"domain":[0,0.7],"nice":false},"axis":{"values":[0,0.1,0.2,0.3,0.4,0.5,0.6,0.7],"format":"~g","title":"%","orient":"left","titlePadding":5}},
    "color":{"field":"s","type":"nominal","legend":null,"scale":{"domain":["b1","b2","b3","b4","b5","b6","b7","b8","b9","b10","b11","b12","b13","b14","b15","b16","b17","b18","b19","b20","b21","b22","b23","b24"],"range":["#A2142F","#D95319","#77AC30","#0072BD","#4DBEEE","#EDB120","#D95319","#0072BD","#7E2F8E","#A2142F","#77AC30","#D95319","#EDB120","#7E2F8E","#4DBEEE","#A2142F","#D95319","#77AC30","#0072BD","#7E2F8E","#4DBEEE","#77AC30","#D95319","#0072BD"]}}
   }},
  {"data":{"values":[{}]},"mark":{"type":"text","align":"left","baseline":"alphabetic","fontSize":23,"color":"#FF0000","font":"Liberation Sans"},
   "encoding":{
    "x":{"datum":1.74,"type":"quantitative","axis":{"orient":"top","labels":false,"values":[0,4,8,12,16,20,24],"title":null}},
    "y":{"datum":0.595,"type":"quantitative","axis":{"orient":"right","labels":false,"values":[0,0.1,0.2,0.3,0.4,0.5,0.6,0.7],"title":null}},
    "text":{"value":"(b) Corrected VUF"}}},
  {"data":{"values":[{}]},"mark":{"type":"text","align":"left","baseline":"alphabetic","fontSize":23,"color":"#FF0000","font":"Liberation Sans"},
   "encoding":{"x":{"datum":1.74,"type":"quantitative","axis":null},"y":{"datum":0.51,"type":"quantitative","axis":null},"text":{"value":"for G"}}},
  {"data":{"values":[{}]},"mark":{"type":"text","align":"left","baseline":"alphabetic","fontSize":16,"color":"#FF0000","font":"Liberation Sans"},
   "encoding":{"x":{"datum":4.62,"type":"quantitative","axis":null},"y":{"datum":0.476,"type":"quantitative","axis":null},"text":{"value":"v"}}},
  {"data":{"values":[{}]},"mark":{"type":"text","align":"left","baseline":"alphabetic","fontSize":23,"color":"#FF0000","font":"Liberation Sans"},
   "encoding":{"x":{"datum":5.45,"type":"quantitative","axis":null},"y":{"datum":0.51,"type":"quantitative","axis":null},"text":{"value":"= 0.05"}}}
 ],
 "resolve":{"axis":{"x":"independent","y":"independent"}}
}
],
"resolve":{"scale":{"color":"independent"}}
}
